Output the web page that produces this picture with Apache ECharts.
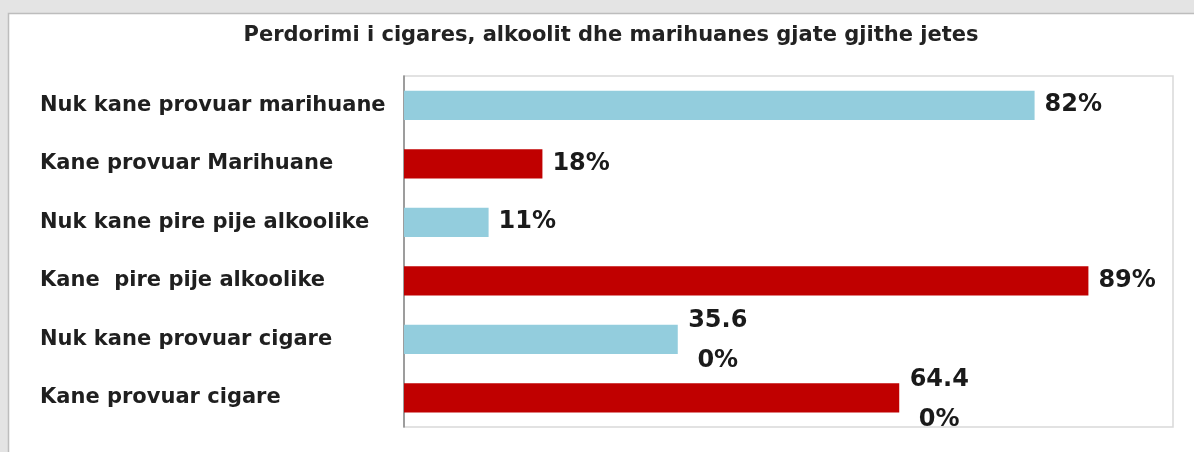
<!DOCTYPE html>
<html>
<head>
<meta charset="utf-8">
<script src="https://cdn.jsdelivr.net/npm/echarts@6/dist/echarts.min.js"></script>
<style>
html,body{margin:0;padding:0;background:#e4e4e4;}
#chart{width:1194px;height:452px;}
</style>
</head>
<body>
<div id="chart"></div>
<script>
var titleText = 'Perdorimi i cigares, alkoolit dhe marihuanes gjate gjithe jetes';
var categories = [
  'Nuk kane provuar marihuane',
  'Kane provuar Marihuane',
  'Nuk kane pire pije alkoolike',
  'Kane  pire pije alkoolike',
  'Nuk kane provuar cigare',
  'Kane provuar cigare'
];
var values = [82, 18, 11, 89, 35.6, 64.4];
var labelTexts = ['82%', '18%', '11%', '89%', ['35.6', '0%'], ['64.4', '0%']];
var axisMin = 0;
var axisMax = 100;

var BLUE = '#93cddd';
var RED = '#c00000';
var FONT = '"DejaVu Sans", sans-serif';

var chart = echarts.init(document.getElementById('chart'), null, {renderer: 'canvas'});

var seriesData = values.map(function (v, i) {
  var t = labelTexts[i];
  var item = {
    value: v,
    itemStyle: {color: i % 2 === 0 ? BLUE : RED}
  };
  if (Array.isArray(t)) {
    item.label = {
      formatter: t.map(function (s) { return '{c|' + s + '}'; }).join('\n'),
      lineHeight: 40,
      padding: [4, 0, 0, 0],
      rich: {c: {width: 60, align: 'center', fontSize: 24, fontWeight: 'bold', fontFamily: FONT, color: '#1a1a1a', lineHeight: 40}}
    };
  } else {
    item.label = {formatter: t};
  }
  return item;
});

chart.setOption({
  backgroundColor: '#e4e4e4',
  animation: false,
  graphic: [{
    type: 'rect',
    z: -10,
    silent: true,
    shape: {x: 8.5, y: 13.5, width: 1200, height: 460},
    style: {fill: '#ffffff', stroke: '#bdbdbd', lineWidth: 1.5}
  }],
  title: {
    text: titleText,
    left: 606,
    textAlign: 'center',
    top: 20,
    textStyle: {fontFamily: FONT, fontSize: 21, fontWeight: 'bold', color: '#222222'}
  },
  grid: {
    left: 404, top: 76, right: 21, bottom: 25,
    show: true, borderColor: '#d9d9d9', borderWidth: 1.5, backgroundColor: 'transparent'
  },
  xAxis: {
    type: 'value', min: axisMin, max: axisMax,
    show: false, splitLine: {show: false}
  },
  yAxis: {
    type: 'category',
    data: categories,
    inverse: true,
    axisLine: {show: true, lineStyle: {color: '#868686', width: 1.5}},
    axisTick: {show: false},
    axisLabel: {
      align: 'left', margin: 364, padding: [5, 0, 0, 0],
      fontFamily: FONT, fontSize: 21, fontWeight: 'bold', color: '#1f1f1f'
    }
  },
  series: [{
    type: 'bar',
    data: seriesData,
    barCategoryGap: '50%',
    label: {
      show: true, position: 'right', distance: 10,
      fontFamily: FONT, fontSize: 24, fontWeight: 'bold', color: '#1a1a1a'
    }
  }]
});
</script>
</body>
</html>
